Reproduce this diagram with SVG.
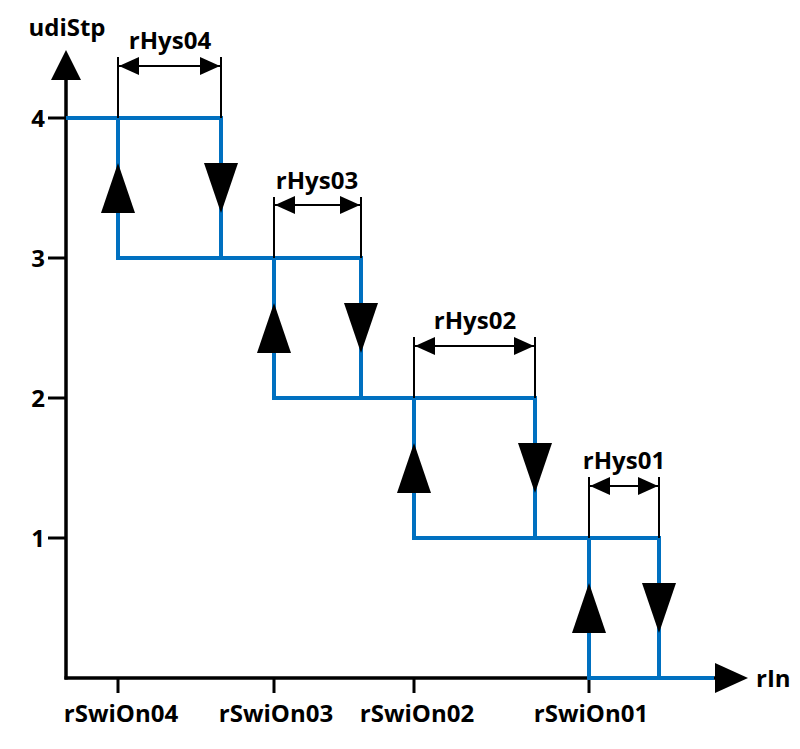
<svg xmlns="http://www.w3.org/2000/svg" width="800" height="749" viewBox="0 0 800 749">
<style>
.ax{stroke:#000;stroke-width:3.5;fill:none}
.tk{stroke:#000;stroke-width:3;fill:none}
.bl{stroke:#0070C0;stroke-width:4;fill:none;stroke-linecap:square}
.dm{stroke:#000;stroke-width:2;fill:none}
.ah{fill:#000}
text{font-family:"Open Sans","Liberation Sans",sans-serif;font-weight:bold;font-size:24px;fill:#000}
.c{text-anchor:middle}
</style>
<defs>
<marker id="dh" viewBox="0 0 20 18" refX="20" refY="9" markerWidth="20" markerHeight="18" markerUnits="userSpaceOnUse" orient="auto-start-reverse">
<path d="M0,0 L20,9 L0,18 Z" fill="#000"/>
</marker>
<path id="up" d="M-17,25 L0,-25 L17,25 Z"/>
<path id="dn" d="M-17,-25 L0,25 L17,-25 Z"/>
</defs>
<g id="axes">
<line class="ax" x1="66" y1="78" x2="66" y2="679.5"/>
<line class="ax" x1="64.5" y1="678" x2="717" y2="678"/>
<path class="ah" d="M51,80 L66,50 L81,80 Z"/>
<path class="ah" d="M715,663 L748,678 L715,693 Z"/>
<g id="yticks">
<line class="tk" x1="48" y1="118" x2="66" y2="118"/>
<line class="tk" x1="48" y1="258" x2="66" y2="258"/>
<line class="tk" x1="48" y1="398" x2="66" y2="398"/>
<line class="tk" x1="48" y1="538" x2="66" y2="538"/>
</g>
<g id="xticks">
<line class="tk" x1="118" y1="678" x2="118" y2="693"/>
<line class="tk" x1="274" y1="678" x2="274" y2="693"/>
<line class="tk" x1="414" y1="678" x2="414" y2="693"/>
<line class="tk" x1="589" y1="678" x2="589" y2="693"/>
</g>
<text x="67" y="36" class="c">udiStp</text>
<text x="756" y="687">rIn</text>
<text x="38" y="127" class="c">4</text>
<text x="38" y="267" class="c">3</text>
<text x="38" y="407" class="c">2</text>
<text x="38" y="547" class="c">1</text>
<text x="121" y="722" class="c">rSwiOn04</text>
<text x="276" y="722" class="c">rSwiOn03</text>
<text x="417" y="722" class="c">rSwiOn02</text>
<text x="591" y="722" class="c">rSwiOn01</text>
</g>
<g id="connectors">
<path class="bl" d="M68,118 H221 V258 M118,118 V258 H361 V398 M274,258 V398 H535 V538 M414,398 V538 H659 V678 M589,538 V678 H712"/>
</g>
<g id="arrows" class="ah">
<use href="#up" x="118" y="188"/>
<use href="#dn" x="221" y="188"/>
<use href="#up" x="274" y="328"/>
<use href="#dn" x="361" y="328"/>
<use href="#up" x="414" y="468"/>
<use href="#dn" x="535" y="468"/>
<use href="#up" x="589" y="608"/>
<use href="#dn" x="659" y="608"/>
</g>
<g id="hys04">
<line class="dm" x1="118" y1="57" x2="118" y2="118"/>
<line class="dm" x1="221" y1="57" x2="221" y2="118"/>
<line class="dm" x1="119" y1="66" x2="220" y2="66" marker-start="url(#dh)" marker-end="url(#dh)"/>
<text x="170" y="49" class="c">rHys04</text>
</g>
<g id="hys03">
<line class="dm" x1="274" y1="197" x2="274" y2="258"/>
<line class="dm" x1="361" y1="197" x2="361" y2="258"/>
<line class="dm" x1="275" y1="205" x2="360" y2="205" marker-start="url(#dh)" marker-end="url(#dh)"/>
<text x="317" y="189" class="c">rHys03</text>
</g>
<g id="hys02">
<line class="dm" x1="414" y1="337" x2="414" y2="398"/>
<line class="dm" x1="535" y1="337" x2="535" y2="398"/>
<line class="dm" x1="415" y1="346" x2="534" y2="346" marker-start="url(#dh)" marker-end="url(#dh)"/>
<text x="475" y="329" class="c">rHys02</text>
</g>
<g id="hys01">
<line class="dm" x1="589" y1="477" x2="589" y2="538"/>
<line class="dm" x1="659" y1="477" x2="659" y2="538"/>
<line class="dm" x1="590" y1="486" x2="658" y2="486" marker-start="url(#dh)" marker-end="url(#dh)"/>
<text x="624" y="469" class="c">rHys01</text>
</g>
</svg>
